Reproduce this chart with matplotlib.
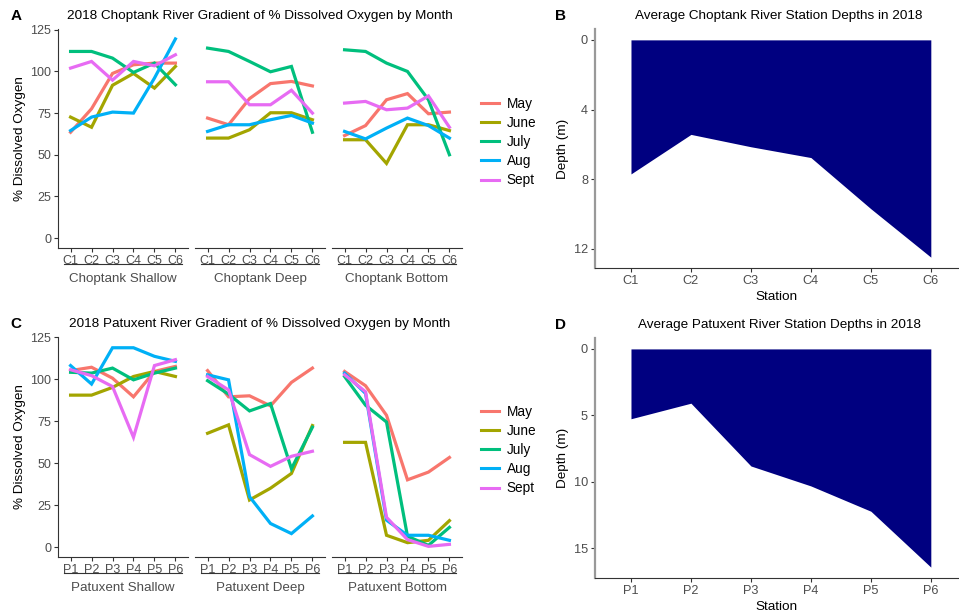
import matplotlib
matplotlib.use("Agg")
import matplotlib.pyplot as plt
import numpy as np
from matplotlib.lines import Line2D
from matplotlib.transforms import blended_transform_factory

plt.rcParams["font.family"] = ["Liberation Sans", "DejaVu Sans"]

months = ["May", "June", "July", "Aug", "Sept"]
month_colors = ["#F8766D", "#A3A500", "#00BF7D", "#00B0F6", "#E76BF3"]

chop_stations = ["C1", "C2", "C3", "C4", "C5", "C6"]
pax_stations = ["P1", "P2", "P3", "P4", "P5", "P6"]

# % dissolved oxygen, one row per month (May..Sept), one column per station
chop_shallow = [
    [63.5, 77.6, 98.8, 104.0, 105.0, 105.0],
    [72.6, 66.5, 91.7, 98.8, 90.0, 103.0],
    [112.0, 112.0, 108.0, 99.4, 105.0, 92.0],
    [64.5, 72.6, 75.6, 75.0, 96.0, 119.5],
    [102.0, 106.0, 94.8, 106.0, 103.4, 110.0],
]
chop_deep = [
    [72.0, 68.0, 83.7, 92.7, 94.0, 91.3],
    [60.0, 60.0, 65.0, 75.2, 75.2, 71.0],
    [114.0, 112.0, 106.0, 99.8, 103.0, 63.5],
    [64.0, 68.0, 68.0, 71.0, 73.6, 69.0],
    [93.8, 93.8, 80.0, 80.0, 88.7, 75.0],
]
chop_bottom = [
    [61.5, 67.5, 83.0, 86.7, 74.6, 75.6],
    [59.0, 59.0, 44.8, 68.0, 68.0, 64.5],
    [113.0, 112.0, 105.0, 100.0, 83.0, 50.0],
    [64.0, 59.5, 66.0, 72.0, 67.5, 60.0],
    [81.0, 82.0, 77.0, 78.0, 85.3, 66.5],
]
pax_shallow = [
    [105.0, 107.0, 100.5, 89.4, 104.5, 107.5],
    [90.4, 90.4, 95.0, 101.5, 104.5, 101.5],
    [104.0, 103.5, 106.5, 99.5, 103.5, 106.5],
    [108.0, 97.0, 118.6, 118.6, 113.5, 110.5],
    [105.5, 102.0, 95.5, 65.3, 108.0, 111.5],
]
pax_deep = [
    [105.0, 89.4, 90.0, 84.0, 98.0, 106.5],
    [67.7, 72.7, 28.0, 35.0, 43.8, 72.3],
    [99.0, 91.0, 81.0, 85.4, 46.6, 71.3],
    [102.5, 99.5, 30.0, 14.0, 8.0, 18.5],
    [101.5, 93.5, 55.0, 48.0, 54.0, 57.0],
]
pax_bottom = [
    [104.5, 96.0, 78.4, 40.0, 44.6, 53.3],
    [62.3, 62.3, 7.0, 2.6, 4.0, 15.7],
    [101.5, 84.4, 74.4, 6.4, 1.0, 11.7],
    [103.5, 91.4, 16.0, 7.0, 7.0, 4.0],
    [102.5, 92.4, 17.7, 4.4, 0.4, 1.6],
]

# average station depths (m)
chop_depth = [7.7, 5.43, 6.14, 6.76, 9.7, 12.48]
pax_depth = [5.25, 4.08, 8.8, 10.3, 12.2, 16.4]

W, H = 959, 612
fig = plt.figure(figsize=(W / 100, H / 100), dpi=100)

TXT = "#4D4D4D"
AX = "#333333"


def box(l, t, r, b):
    return [l / W, 1 - b / H, (r - l) / W, (b - t) / H]


def ftext(x, y, s, **kw):
    fig.text(x / W, 1 - y / H, s, **kw)


def draw_facets(top, bottom, groups, names, stations, title, letter):
    x = np.arange(1, len(stations) + 1)
    vmax = max(max(max(r) for r in g) for g in groups)
    lo, hi = -0.05 * vmax, 1.05 * vmax
    spans = [(58, 188), (195, 325), (332, 462)]
    for i, ((l, r), g, name) in enumerate(zip(spans, groups, names)):
        ax = fig.add_axes(box(l, top, r, bottom))
        for vals, c in zip(g, month_colors):
            ax.plot(x, vals, color=c, lw=2.3, solid_joinstyle="miter")
        ax.set_xlim(0.4, 6.6)
        ax.set_ylim(lo, hi)
        ax.set_xticks(x, stations)
        ax.set_yticks([0, 25, 50, 75, 100, 125])
        for s in ["top", "right"]:
            ax.spines[s].set_visible(False)
        ax.spines["bottom"].set_color(AX)
        ax.spines["left"].set_color(AX)
        ax.tick_params(colors=AX, labelcolor=TXT, labelsize=9, length=3, width=0.8, pad=2)
        if i > 0:
            ax.spines["left"].set_visible(False)
            ax.tick_params(left=False, labelleft=False)
        # strip label under the station ticks
        tr = blended_transform_factory(ax.transData, ax.transAxes)
        ylin = -16 / (bottom - top)
        ax.add_line(Line2D([0.68, 6.32], [ylin, ylin], transform=tr, color=AX,
                           lw=0.8, clip_on=False))
        ax.text(3.5, -31 / (bottom - top), name, transform=tr, ha="center", va="center",
                fontsize=9.6, color=TXT)
    ftext(260, top - 13, title, ha="center", va="center", fontsize=9.7)
    ftext(16, top - 13, letter, ha="center", va="center", fontsize=11, fontweight="bold")
    ftext(20, (top + bottom) / 2, "% Dissolved Oxygen", rotation=90, ha="center",
          va="center", fontsize=9.7)
    handles = [Line2D([], [], color=c, lw=2.2) for c in month_colors]
    fig.legend(handles, months, loc="center left",
               bbox_to_anchor=(481 / W, 1 - (top + 113) / H), frameon=False,
               fontsize=9.8, handlelength=1.3, handletextpad=0.6, labelspacing=0.38,
               borderpad=0, borderaxespad=0)


def draw_depth(top, bottom, depth, stations, yticks, title, letter):
    x = np.arange(1, len(stations) + 1)
    ax = fig.add_axes(box(595, top, 959, bottom))
    ax.fill_between(x, 0, depth, color="#000080", lw=0)
    dmax = max(depth)
    ax.set_xlim(0.4, 6.47)
    ax.set_ylim(1.05 * dmax, -0.05 * dmax)
    ax.set_xticks(x, stations)
    ax.set_yticks(yticks)
    for s in ["top", "right"]:
        ax.spines[s].set_visible(False)
    ax.spines["bottom"].set_color(AX)
    ax.spines["left"].set_color("#999999")
    ax.spines["left"].set_linewidth(1.6)
    ax.tick_params(colors=AX, labelcolor=TXT, labelsize=9.2, length=3, width=0.8, pad=2)
    ax.set_xlabel("Station", fontsize=9.7, labelpad=3)
    ftext(563, (top + bottom) / 2, "Depth (m)", rotation=90, ha="center", va="center",
          fontsize=9.7)
    ftext(779, top - 13, title, ha="center", va="center", fontsize=9.7)
    ftext(561, top - 13, letter, ha="center", va="center", fontsize=11, fontweight="bold")


draw_facets(29, 248, [chop_shallow, chop_deep, chop_bottom],
            ["Choptank Shallow", "Choptank Deep", "Choptank Bottom"], chop_stations,
            "2018 Choptank River Gradient of % Dissolved Oxygen by Month", "A")
draw_facets(337, 557, [pax_shallow, pax_deep, pax_bottom],
            ["Patuxent Shallow", "Patuxent Deep", "Patuxent Bottom"], pax_stations,
            "2018 Patuxent River Gradient of % Dissolved Oxygen by Month", "C")
draw_depth(29, 268, chop_depth, chop_stations, [0, 4, 8, 12],
           "Average Choptank River Station Depths in 2018", "B")
draw_depth(338, 578, pax_depth, pax_stations, [0, 5, 10, 15],
           "Average Patuxent River Station Depths in 2018", "D")

fig.savefig("out.png", dpi=100)
